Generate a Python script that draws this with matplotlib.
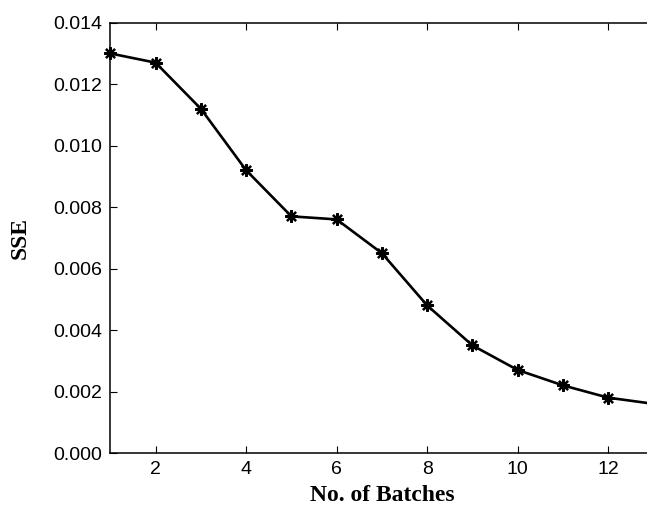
import matplotlib.pyplot as plt

# values
batches = [1, 2, 3, 4, 5, 6, 7, 8, 9, 10, 11, 12, 13]
sse = [0.0130, 0.0127, 0.0112, 0.0092, 0.0077, 0.0076, 0.0065,
       0.0048, 0.0035, 0.0027, 0.0022, 0.0018, 0.0016]
xticks = [2, 4, 6, 8, 10, 12]
yticks = [0.000, 0.002, 0.004, 0.006, 0.008, 0.010, 0.012, 0.014]

plt.rcParams['font.family'] = ['Liberation Sans', 'DejaVu Sans']

fig = plt.figure(figsize=(6.47, 5.07), dpi=100)
# axes run a little past the right edge, like the cropped original
ax = fig.add_axes([0.1705, 0.1065, 0.8396, 0.8487])

ax.plot(batches, sse, color='black', linewidth=1.9,
        marker=(8, 2, 0), markersize=9, markeredgewidth=1.6,
        markeredgecolor='black', clip_on=False)

ax.set_xlim(1, 13)
ax.set_ylim(0, 0.014)
ax.set_xticks(xticks)
ax.set_yticks(yticks)
ax.set_yticklabels([f"{v:.3f}" for v in yticks])
ax.tick_params(direction='in', top=True, right=True, length=5,
               width=0.8, labelsize=14, pad=6)
for s in ax.spines.values():
    s.set_linewidth(1.1)

lab = dict(family='Liberation Serif', fontweight='bold', fontsize=17)
ax.set_xlabel("No. of Batches", labelpad=5, **lab)
ax.set_ylabel("SSE", labelpad=16, **lab)

fig.savefig("out.png", dpi=100)
